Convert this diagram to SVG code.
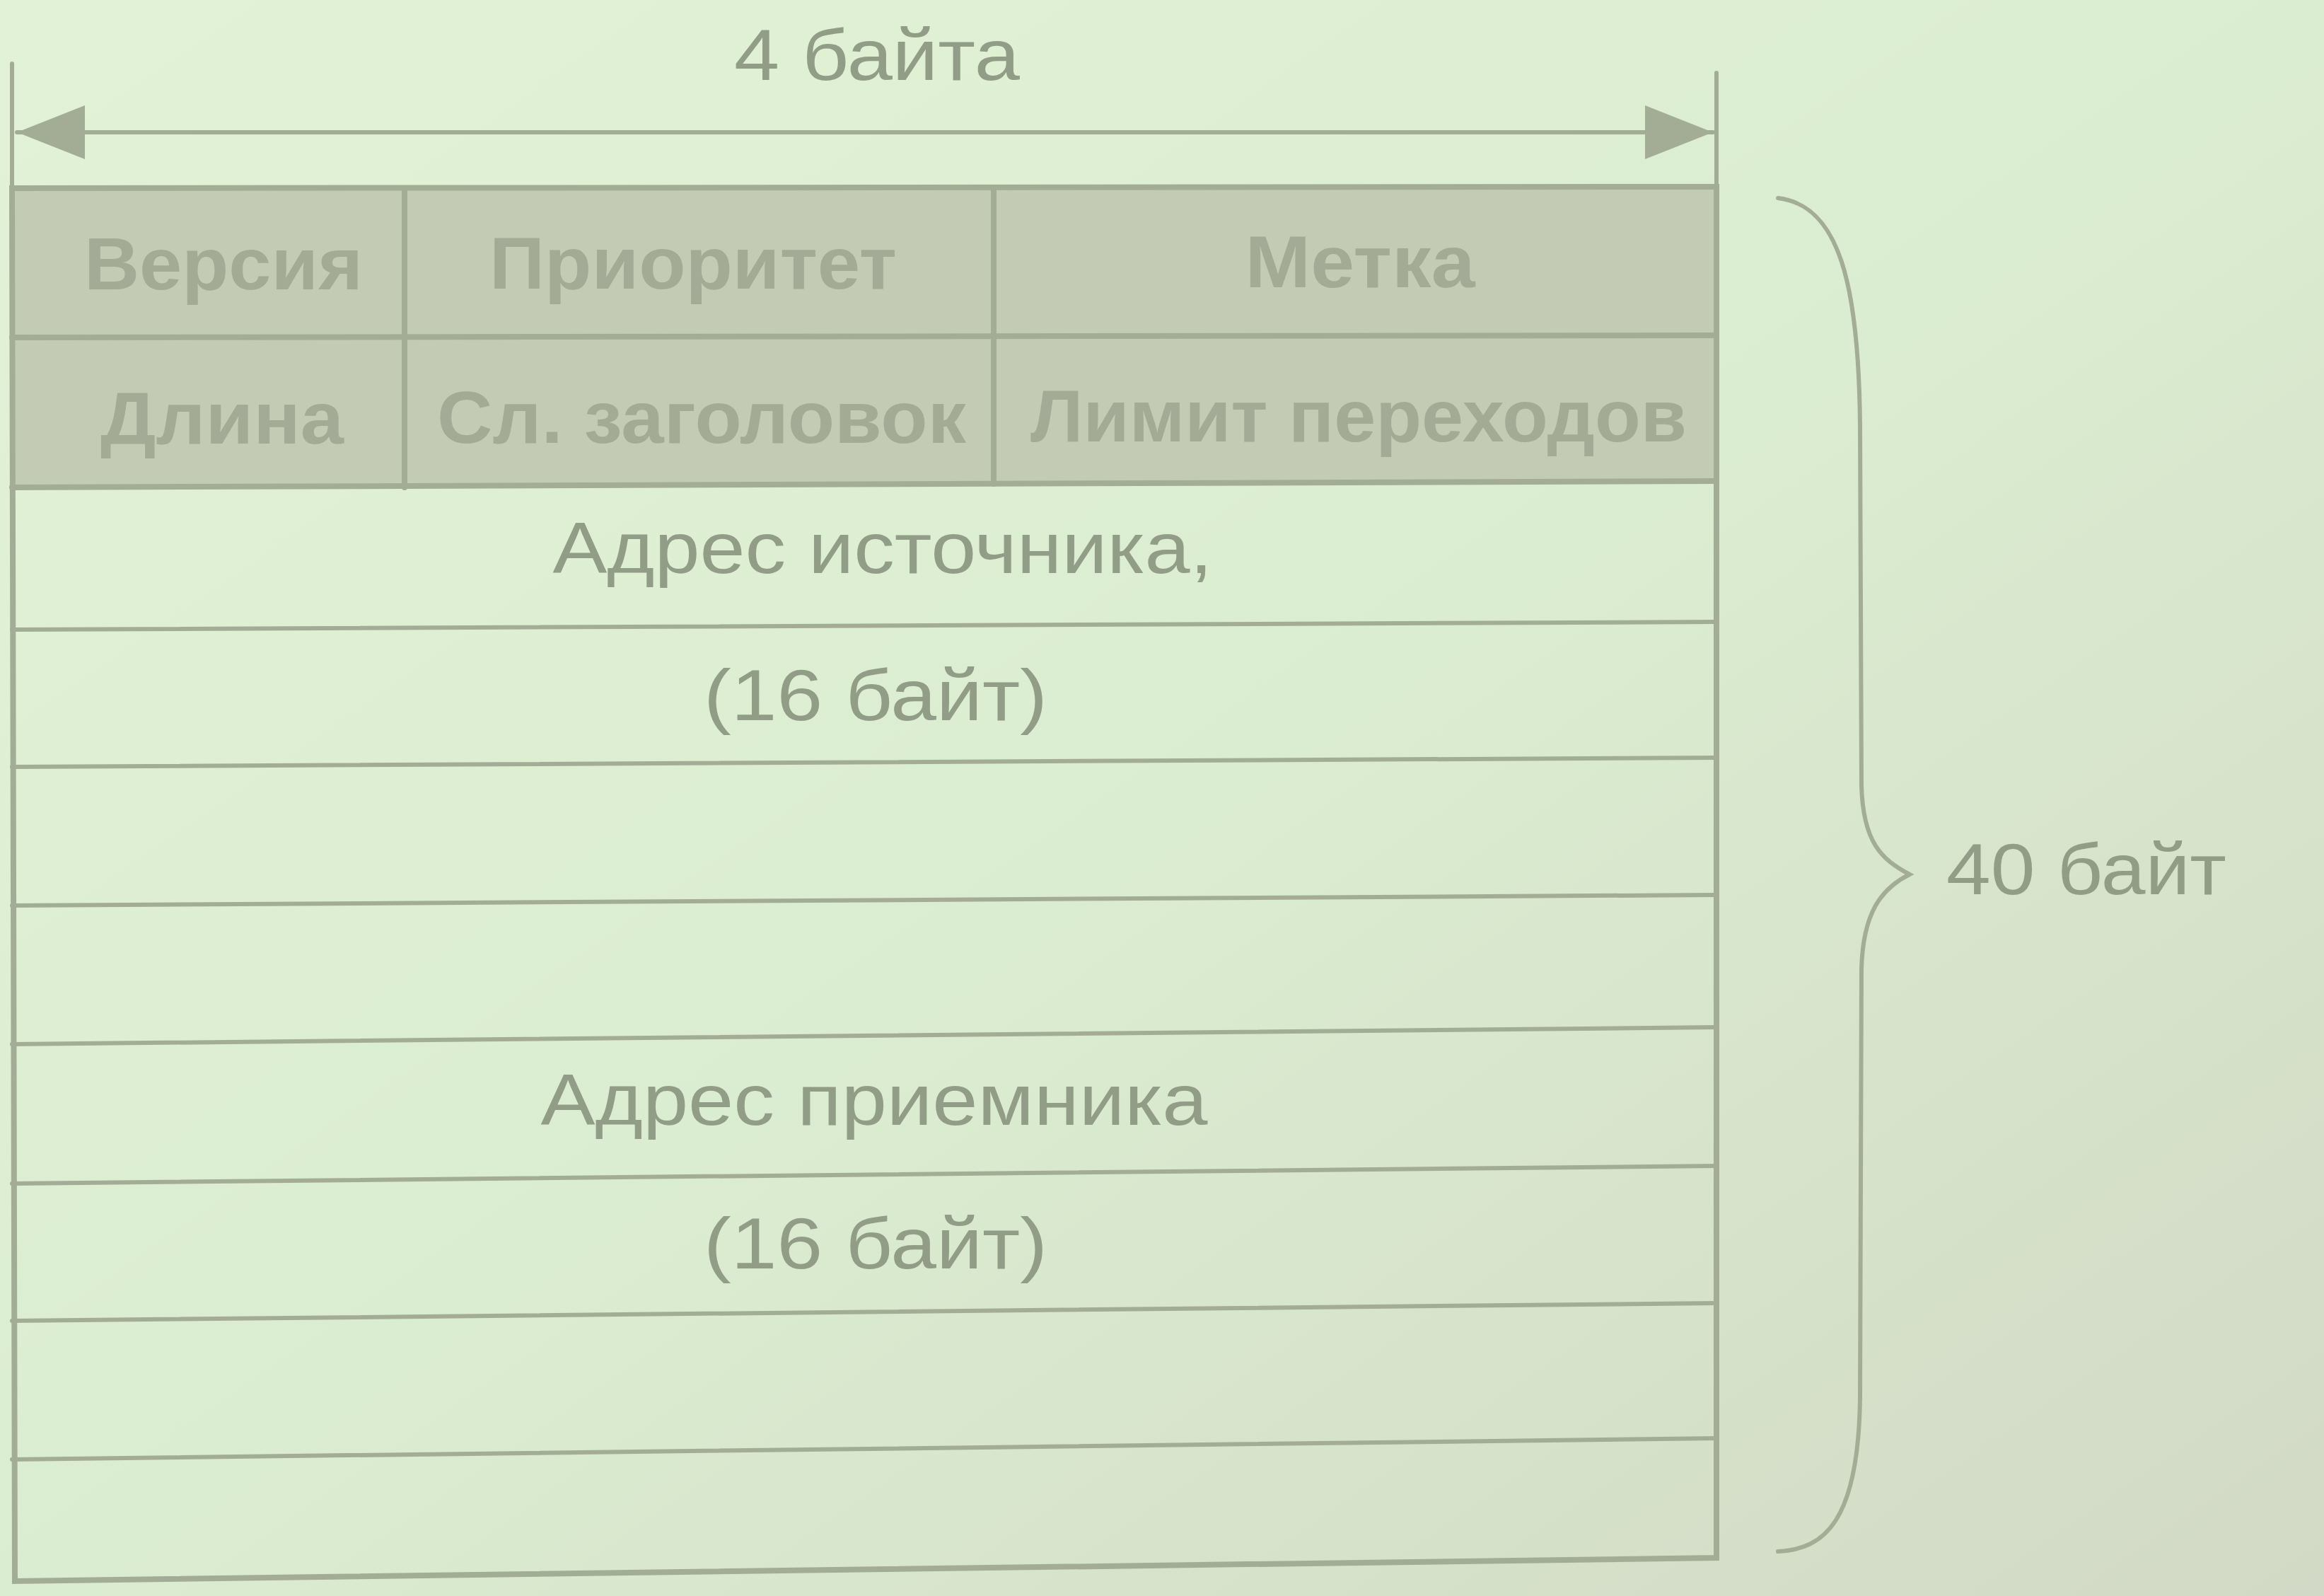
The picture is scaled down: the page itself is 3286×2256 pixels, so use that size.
<svg xmlns="http://www.w3.org/2000/svg" width="3286" height="2256" viewBox="0 0 3286 2256">
<defs>
<linearGradient id="bg" x1="0" y1="0" x2="1" y2="1">
<stop offset="0" stop-color="#e2f2d6"/>
<stop offset="0.5" stop-color="#dbedd0"/>
<stop offset="1" stop-color="#d2d9c6"/>
</linearGradient>
<marker id="ah" viewBox="0 0 96 76" refX="96" refY="38" markerWidth="96" markerHeight="76" markerUnits="userSpaceOnUse" orient="auto-start-reverse">
<path d="M0,0 L96,38 L0,76 Z" fill="#a3ad96"/>
</marker>
<style>
.ln{stroke:#a3ad96;fill:none;stroke-linecap:round}
.thick{stroke-width:8}
.thin{stroke-width:6}
.hd{font-family:"Liberation Sans",Arial,sans-serif;font-weight:bold;font-size:104px;fill:#a3ab96;text-anchor:middle}
.tx{font-family:"Liberation Sans",Arial,sans-serif;font-size:102px;fill:#929d87;text-anchor:middle}
</style>
</defs>
<rect width="3286" height="2256" fill="url(#bg)"/>

<g id="dimension">
<line class="ln thin" x1="17" y1="90" x2="17" y2="266"/>
<line class="ln thin" x1="2427" y1="103" x2="2427" y2="264"/>
<line class="ln thin" x1="24" y1="187" x2="2422" y2="187" marker-start="url(#ah)" marker-end="url(#ah)"/>
<text class="tx" x="1240" y="113" textLength="404" lengthAdjust="spacingAndGlyphs">4 байта</text>
</g>

<g id="header-gray">
<polygon points="17,266 2427,264 2427,680 17,689" fill="#c3cbb4"/>
</g>

<g id="table-lines">
<line class="ln thick" x1="17" y1="477" x2="2427" y2="474"/>
<line class="ln thick" x1="17" y1="689" x2="2427" y2="680"/>
<line class="ln thick" x1="572" y1="266" x2="572" y2="689"/>
<line class="ln thick" x1="1405" y1="265" x2="1405" y2="684"/>
<line class="ln thin" x1="17" y1="890" x2="2427" y2="879"/>
<line class="ln thin" x1="17" y1="1084" x2="2427" y2="1071"/>
<line class="ln thin" x1="17" y1="1280" x2="2427" y2="1265"/>
<line class="ln thin" x1="17" y1="1476" x2="2427" y2="1452"/>
<line class="ln thin" x1="17" y1="1673" x2="2427" y2="1648"/>
<line class="ln thin" x1="17" y1="1867" x2="2427" y2="1842"/>
<line class="ln thin" x1="17" y1="2063" x2="2427" y2="2033"/>
<polygon class="ln thick" points="17,266 2427,264 2427,2202 21,2235"/>
</g>

<g id="cell-version"><text class="hd" x="316" y="409" textLength="394" lengthAdjust="spacingAndGlyphs">Версия</text></g>
<g id="cell-priority"><text class="hd" x="980" y="408" textLength="576" lengthAdjust="spacingAndGlyphs">Приоритет</text></g>
<g id="cell-label"><text class="hd" x="1923" y="406" textLength="325" lengthAdjust="spacingAndGlyphs">Метка</text></g>
<g id="cell-length"><text class="hd" x="314" y="627" textLength="344" lengthAdjust="spacingAndGlyphs">Длина</text></g>
<g id="cell-next"><text class="hd" x="992" y="626" textLength="748" lengthAdjust="spacingAndGlyphs">Сл. заголовок</text></g>
<g id="cell-hop"><text class="hd" x="1921" y="624" textLength="928" lengthAdjust="spacingAndGlyphs">Лимит переходов</text></g>
<g id="cell-src"><text class="tx" x="1248" y="810" textLength="933" lengthAdjust="spacingAndGlyphs">Адрес источника,</text></g>
<g id="cell-src-size"><text class="tx" x="1238" y="1018" textLength="486" lengthAdjust="spacingAndGlyphs">(16 байт)</text></g>
<g id="cell-dst"><text class="tx" x="1236" y="1590" textLength="943" lengthAdjust="spacingAndGlyphs">Адрес приемника</text></g>
<g id="cell-dst-size"><text class="tx" x="1238" y="1793" textLength="486" lengthAdjust="spacingAndGlyphs">(16 байт)</text></g>

<g id="brace">
<path class="ln thin" d="M2514,280 C2600,290 2628,400 2630,600 L2632,1110 C2634,1190 2660,1215 2700,1236 C2660,1256 2634,1290 2632,1370 L2630,1975 C2628,2150 2580,2190 2514,2193"/>
<text class="tx" x="2950" y="1264" textLength="396" lengthAdjust="spacingAndGlyphs">40 байт</text>
</g>
</svg>
